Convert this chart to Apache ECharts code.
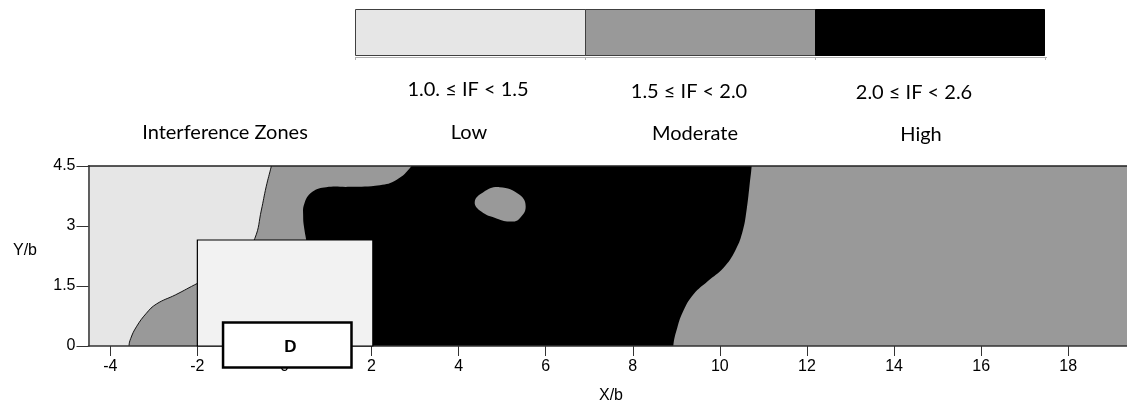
<!DOCTYPE html>
<html>
<head>
<meta charset="utf-8">
<script src="https://cdn.jsdelivr.net/npm/echarts@6/dist/echarts.min.js"></script>
<style>html,body{margin:0;padding:0;background:#fff;}#chart{width:1127px;height:405px;}</style>
</head>
<body>
<div id="chart"></div>
<script>
// ---- data ----
const xTicks = [-4, -2, 0, 2, 4, 6, 8, 10, 12, 14, 16, 18];
const yTickLabels = ['0', '1.5', '3', '4.5'];
const zoneRanges = ['1.0. \u2264 IF < 1.5', '1.5 \u2264 IF < 2.0', '2.0 \u2264 IF < 2.6'];
const zoneNames = ['Low', 'Moderate', 'High'];
const zoneColors = ['#e6e6e6', '#999999', '#000000'];
const legendTitle = 'Interference Zones';

// contour boundaries (X/b, Y/b)
const lowZone = [
  [-0.06, 5.6], [-0.30, 4.5], [-0.42, 3.98], [-0.53, 3.4], [-0.68, 2.69],
  [-0.95, 2.25], [-1.45, 1.85], [-1.99, 1.57], [-2.5, 1.28], [-2.94, 1.05],
  [-3.17, 0.82], [-3.40, 0.48], [-3.53, 0.19], [-3.57, 0], [-3.62, -1.2],
  [-9, -1.2], [-9, 5.6]
];
const highZone = [
  [3.45, 5.3], [2.92, 4.5], [2.57, 4.15], [2.19, 4.02], [1.50, 3.98], [0.96, 3.97],
  [0.65, 3.86], [0.46, 3.57], [0.43, 3.23], [0.46, 2.9], [0.5, 2.65], [0.6, 1.8],
  [0.8, 0.8], [1.0, -1.2], [8.85, -1.2], [8.93, 0], [9.02, 0.45], [9.17, 0.9],
  [9.4, 1.3], [9.72, 1.62], [10.08, 1.95], [10.36, 2.4], [10.53, 2.9],
  [10.62, 3.45], [10.68, 4.0], [10.73, 4.5], [10.78, 5.3]
];
const moderateIsland = [
  [4.37, 3.6], [4.52, 3.36], [4.87, 3.19], [5.21, 3.11], [5.40, 3.19],
  [5.54, 3.48], [5.40, 3.78], [4.94, 3.97], [4.56, 3.84]
];
const outerBox = [[-2, 0], [2.03, 2.65]];
const innerBox = [[-1.41, -0.54], [1.54, 0.59]];
const innerBoxLabel = 'D';
const xRange = [-4.5, 19.35];
const yRange = [0, 4.5];

// ---- chart ----
const chart = echarts.init(document.getElementById('chart'), null, {renderer: 'canvas'});

function polySeries(points, fill, stroke, z) {
  return {
    type: 'custom', z: z, silent: true,
    data: [[0, 0]],
    renderItem: function (params, api) {
      const pts = points.map(p => api.coord(p));
      const cs = params.coordSys;
      return {
        type: 'polygon',
        shape: {points: pts, smooth: 0.45},
        style: {fill: fill, stroke: stroke || null, lineWidth: stroke ? 0.9 : 0},
        clipPath: {type: 'rect', shape: {x: cs.x, y: cs.y, width: cs.width, height: cs.height}}
      };
    }
  };
}

function boxSeries(box, fill, lineWidth, z, label) {
  return {
    type: 'custom', z: z, silent: true, clip: false,
    data: [[0, 0]],
    renderItem: function (params, api) {
      const a = api.coord(box[0]);
      const b = api.coord(box[1]);
      const children = [{
        type: 'rect',
        shape: {x: a[0], y: b[1], width: b[0] - a[0], height: a[1] - b[1]},
        style: {fill: fill, stroke: '#000', lineWidth: lineWidth}
      }];
      if (label) {
        children.push({
          type: 'text',
          style: {text: label, x: (a[0] + b[0]) / 2 + 3, y: (a[1] + b[1]) / 2 + 2,
                   align: 'center', verticalAlign: 'middle',
                   font: 'bold 17px "Liberation Sans", Arial, sans-serif', fill: '#000'}
        });
      }
      return {type: 'group', children: children};
    }
  };
}

const axisFont = {fontFamily: '"Liberation Sans", Arial, sans-serif', fontSize: 16, color: '#000'};
const legendFont = '20px Lato, "Open Sans", sans-serif';

const legendLeft = 355, legendTop = 9, legendH = 46, sectionW = 230;
const rangeX = [468, 689, 914], rangeY = [90, 92, 93];
const nameX = [469, 695, 921], nameY = [133, 134, 135];

const graphics = [];
zoneColors.forEach((c, i) => {
  graphics.push({
    type: 'rect', z: 10,
    shape: {x: legendLeft + i * sectionW + 0.5, y: legendTop + 0.5, width: sectionW - (i === 2 ? 1 : 0), height: legendH},
    style: {fill: c, stroke: i === 2 ? '#000' : '#404040', lineWidth: 1}
  });
  graphics.push({
    type: 'text', z: 10,
    style: {text: zoneRanges[i], x: rangeX[i], y: rangeY[i], align: 'center', verticalAlign: 'middle', font: legendFont, fill: '#000'}
  });
  graphics.push({
    type: 'text', z: 10,
    style: {text: zoneNames[i], x: nameX[i], y: nameY[i], align: 'center', verticalAlign: 'middle', font: legendFont, fill: '#000'}
  });
});
graphics.push({type: 'line', z: 10, shape: {x1: legendLeft, y1: 57.5, x2: legendLeft + 3 * sectionW + 2, y2: 57.5}, style: {stroke: '#b0b0b0', lineWidth: 1}});
for (let i = 0; i <= 3; i++) {
  graphics.push({type: 'line', z: 10, shape: {x1: legendLeft + i * sectionW + 0.5, y1: 57, x2: legendLeft + i * sectionW + 0.5, y2: 60}, style: {stroke: '#b0b0b0', lineWidth: 1}});
}
graphics.push({type: 'text', z: 10, style: {text: legendTitle, x: 225, y: 133, align: 'center', verticalAlign: 'middle', font: legendFont, fill: '#000'}});
graphics.push({type: 'text', z: 10, style: {text: 'Y/b', x: 25, y: 251, align: 'center', verticalAlign: 'middle', font: '16px "Liberation Sans", Arial, sans-serif', fill: '#000'}});
graphics.push({type: 'text', z: 10, style: {text: 'X/b', x: 611, y: 396, align: 'center', verticalAlign: 'middle', font: '16px "Liberation Sans", Arial, sans-serif', fill: '#000'}});

chart.setOption({
  animation: false,
  backgroundColor: '#ffffff',
  grid: {left: 88.5, top: 166, height: 180, right: 0, show: true, backgroundColor: '#999999', borderWidth: 0},
  xAxis: [{
    type: 'value', min: xRange[0], max: xRange[1], z: 5,
    axisLine: {show: true, onZero: false, lineStyle: {color: '#333', width: 1.5}},
    axisTick: {show: true, length: 10, customValues: xTicks, lineStyle: {color: '#333'}},
    axisLabel: Object.assign({customValues: xTicks, margin: 13}, axisFont),
    splitLine: {show: false}
  }, {
    type: 'value', min: xRange[0], max: xRange[1], position: 'top', z: 5,
    axisLine: {show: true, onZero: false, lineStyle: {color: '#222', width: 1.5}},
    axisTick: {show: false}, axisLabel: {show: false}, splitLine: {show: false}
  }],
  yAxis: {
    type: 'value', min: yRange[0], max: yRange[1], interval: 1.5, z: 5,
    axisLine: {show: true, onZero: false, lineStyle: {color: '#333', width: 1.5}},
    axisTick: {show: true, length: 12, lineStyle: {color: '#333'}},
    axisLabel: Object.assign({margin: 13, formatter: (v) => yTickLabels[Math.round(v / 1.5)]}, axisFont),
    splitLine: {show: false}
  },
  graphic: graphics,
  series: [
    polySeries(lowZone, zoneColors[0], '#000', 1),
    polySeries(highZone, zoneColors[2], null, 1),
    polySeries(moderateIsland, zoneColors[1], null, 1),
    boxSeries(outerBox, '#f2f2f2', 1.2, 6, null),
    boxSeries(innerBox, '#ffffff', 2.5, 10, innerBoxLabel)
  ]
});
</script>
</body>
</html>
